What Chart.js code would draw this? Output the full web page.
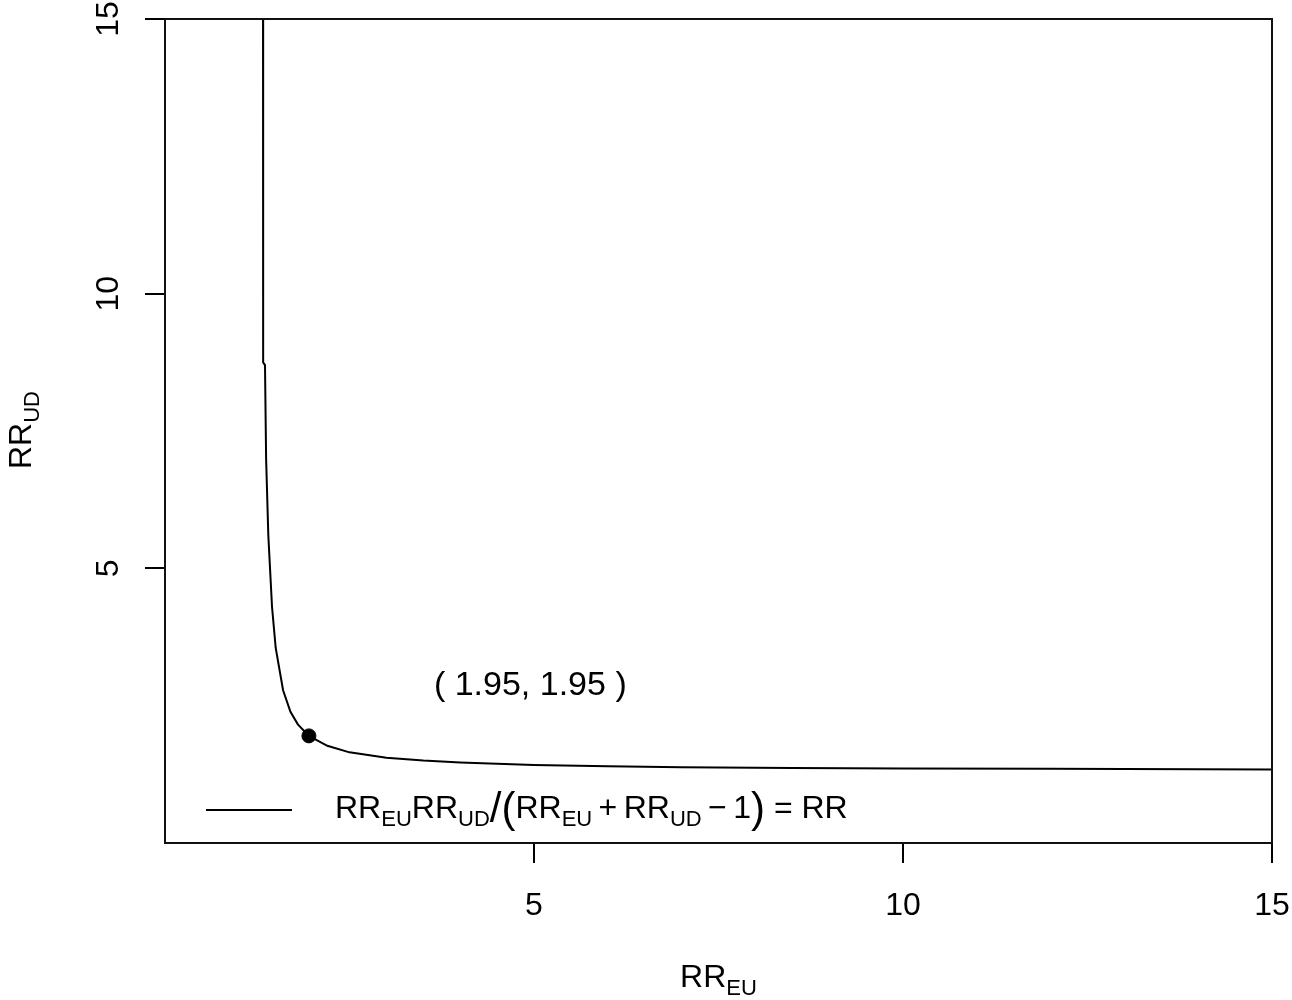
<!DOCTYPE html>
<html>
<head>
<meta charset="utf-8">
<script src="https://cdn.jsdelivr.net/npm/chart.js@4.4.0/dist/chart.umd.min.js"></script>
<style>
  html, body { margin: 0; padding: 0; background: #fff; }
  canvas { display: block; }
</style>
</head>
<body>
<canvas id="myChart" width="1292" height="1000"></canvas>
<script>
// curve: RR_EU (x) against RR_UD (y)
const rrEU = [1.328, 1.330, 1.355, 1.37, 1.40, 1.45, 1.50, 1.60, 1.70, 1.80, 1.95,
              2.20, 2.50, 3.00, 3.50, 4.00, 5.00, 6.00, 7.00, 8.50, 10.0, 12.0, 15.0];
const rrUD = [16.0, 8.75, 8.70, 7.00, 5.60, 4.30, 3.55, 2.78, 2.39, 2.16, 1.95,
              1.77, 1.65, 1.55, 1.50, 1.465, 1.42, 1.395, 1.38, 1.365, 1.356, 1.35, 1.34];
// marked point and its label
const pointEU = [1.95];
const pointUD = [1.95];
const pointLabel = '( 1.95, 1.95 )';
const labelPos = [4.95, 2.92];
// axes
const xTicks = [5, 10, 15];
const yTicks = [5, 10, 15];

const FONT = '"Liberation Sans", Arial, Helvetica, sans-serif';
const MAIN = 32, SUB = 22, BIG = 42;

function drawMath(ctx, parts, x, y) {
  // parts: [text, kind] kind = m (main), s (subscript), b (big)
  for (const [t, k] of parts) {
    let size = MAIN, dy = 0;
    if (k === 's') { size = SUB; dy = 8; }
    if (k === 'b') { size = BIG; dy = 4; }
    ctx.font = size + 'px ' + FONT;
    ctx.fillText(t, x, y + dy);
    x += ctx.measureText(t).width;
  }
  return x;
}

function mathWidth(ctx, parts) {
  let w = 0;
  for (const [t, k] of parts) {
    ctx.font = (k === 's' ? SUB : k === 'b' ? BIG : MAIN) + 'px ' + FONT;
    w += ctx.measureText(t).width;
  }
  return w;
}

const extras = {
  id: 'extras',
  afterDraw(chart) {
    const ctx = chart.ctx;
    const a = chart.chartArea;
    const xs = chart.scales.x, ys = chart.scales.y;
    ctx.save();
    // plot box
    ctx.strokeStyle = '#111';
    ctx.lineWidth = 2;
    ctx.strokeRect(a.left, a.top, a.right - a.left, a.bottom - a.top);

    ctx.fillStyle = '#000';
    ctx.textAlign = 'left';
    ctx.textBaseline = 'alphabetic';

    // x title
    const xt = [['RR', 'm'], ['EU', 's']];
    drawMath(ctx, xt, (a.left + a.right) / 2 - mathWidth(ctx, xt) / 2, 987);

    // y title (rotated)
    const yt = [['RR', 'm'], ['UD', 's']];
    ctx.save();
    ctx.translate(31, 430);
    ctx.rotate(-Math.PI / 2);
    drawMath(ctx, yt, -mathWidth(ctx, yt) / 2, 0);
    ctx.restore();

    // point label
    ctx.font = '34px ' + FONT;
    ctx.textAlign = 'center';
    ctx.fillText(pointLabel, xs.getPixelForValue(labelPos[0]), ys.getPixelForValue(labelPos[1]) + 12);
    ctx.textAlign = 'left';

    // legend
    ctx.beginPath();
    ctx.lineWidth = 2;
    ctx.strokeStyle = '#000';
    ctx.moveTo(206, 810);
    ctx.lineTo(292, 810);
    ctx.stroke();
    drawMath(ctx, [
      ['RR', 'm'], ['EU', 's'], ['RR', 'm'], ['UD', 's'], ['/', 'b'], ['(', 'b'],
      ['RR', 'm'], ['EU', 's'], ['\u2009+\u2009', 'm'], ['RR', 'm'], ['UD', 's'], ['\u2009\u2212\u20091', 'm'],
      [')', 'b'], [' = RR', 'm']
    ], 335, 818);
    ctx.restore();
  }
};

const tickFont = { family: FONT, size: 32 };

new Chart(document.getElementById('myChart').getContext('2d'), {
  type: 'scatter',
  data: {
    datasets: [
      {
        data: rrEU.map((v, i) => ({ x: v, y: rrUD[i] })),
        showLine: true,
        borderColor: '#000',
        borderWidth: 2,
        pointRadius: 0,
        tension: 0
      },
      {
        data: pointEU.map((v, i) => ({ x: v, y: pointUD[i] })),
        pointRadius: 7,
        pointBackgroundColor: '#000',
        pointBorderColor: '#000',
        pointBorderWidth: 1
      }
    ]
  },
  options: {
    responsive: false,
    animation: false,
    layout: { padding: { top: 19, right: 20, left: 0, bottom: 0 } },
    plugins: { legend: { display: false }, tooltip: { enabled: false } },
    scales: {
      x: {
        type: 'linear', min: 0, max: 15,
        afterBuildTicks: s => { s.ticks = xTicks.map(v => ({ value: v })); },
        afterFit: s => { s.height = 157; s.paddingLeft = 0; s.paddingRight = 0; },
        grid: { drawOnChartArea: false, drawTicks: true, tickLength: 20, color: '#000', lineWidth: 2 },
        border: { display: false },
        ticks: { font: tickFont, color: '#000', padding: 24, maxRotation: 0 }
      },
      y: {
        type: 'linear', min: 0, max: 15,
        afterBuildTicks: s => { s.ticks = yTicks.map(v => ({ value: v })); },
        afterFit: s => { s.width = 165; s.paddingTop = 0; s.paddingBottom = 0; },
        grid: { drawOnChartArea: false, drawTicks: true, tickLength: 20, color: '#000', lineWidth: 2 },
        border: { display: false },
        ticks: { font: tickFont, color: '#000', padding: 18, minRotation: 90, maxRotation: 90, crossAlign: 'center' }
      }
    }
  },
  plugins: [extras]
});
</script>
</body>
</html>
